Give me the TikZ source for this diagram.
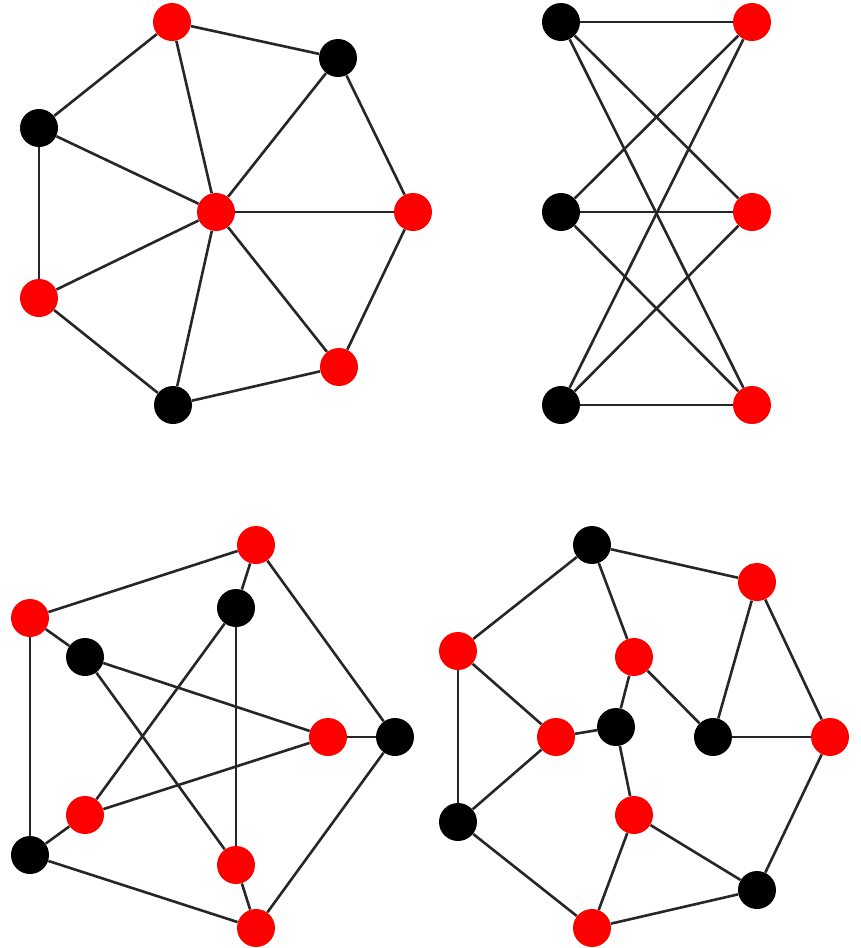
\documentclass[tikz,border=0pt]{standalone}
\usepackage{tikz}
\tikzstyle{vertex} = [circle, inner sep=0pt, minimum size=0.76cm]
\tikzstyle{rednode} = [vertex, fill=red]
\tikzstyle{blacknode} = [vertex, fill=black]
\tikzstyle{edge} = [draw=black!85, line width=0.052cm]

\begin{document}
\begin{tikzpicture}[x=0.02cm,y=-0.02cm]
    \useasboundingbox (0,0) rectangle (861,948);
    % wheel
    \begin{scope}
        \foreach \n/\x/\y/\c in {a/172/22/rednode,b/338/58/blacknode,c/39/128/blacknode,d/216/212/rednode,e/413/212/rednode,f/39/298/rednode,g/339/367/rednode,h/173/405/blacknode}
            \node[\c] (w\n) at (\x,\y) {};
        \foreach \u/\v in {a/b,a/c,a/d,b/d,b/e,c/d,c/f,d/e,d/f,d/g,d/h,e/g,f/h,h/g}
            \draw[edge] (w\u) -- (w\v);
    \end{scope}
    % bipartite
    \begin{scope}
        \foreach \i/\y in {1/22,2/212,3/405} {
            \node[blacknode] (kl\i) at (561,\y) {};
            \node[rednode] (kr\i) at (752,\y) {};
        }
        \foreach \i in {1,2,3}
            \foreach \j in {1,2,3}
                \draw[edge] (kl\i) -- (kr\j);
    \end{scope}
    % petersen
    \begin{scope}
        \foreach \n/\x/\y/\c in {1/256/545/rednode,2/30/618/rednode,3/236/608/blacknode,4/85/657/blacknode,5/328/737/rednode,6/395/737/blacknode,7/85/815/rednode,8/30/855/blacknode,9/236/865/rednode,10/256/928/rednode}
            \node[\c] (p\n) at (\x,\y) {};
        \foreach \u/\v in {1/2,2/8,8/10,10/6,6/1,1/3,2/4,6/5,10/9,8/7,3/7,3/9,4/5,4/9,5/7}
            \draw[edge] (p\u) -- (p\v);
    \end{scope}
    % cubic
    \begin{scope}
        \foreach \n/\x/\y/\c in {1/592/545/blacknode,2/757/582/rednode,3/458/651/rednode,4/634/657/rednode,5/616/727/blacknode,6/556/737/rednode,7/713/737/blacknode,8/830/737/rednode,9/634/815/rednode,10/458/822/blacknode,11/757/890/blacknode,12/592/928/rednode}
            \node[\c] (q\n) at (\x,\y) {};
        \foreach \u/\v in {1/2,1/3,1/4,2/7,2/8,3/6,3/10,4/5,4/7,5/6,5/9,6/10,7/8,8/11,9/11,9/12,10/12,11/12}
            \draw[edge] (q\u) -- (q\v);
    \end{scope}
\end{tikzpicture}
\end{document}
